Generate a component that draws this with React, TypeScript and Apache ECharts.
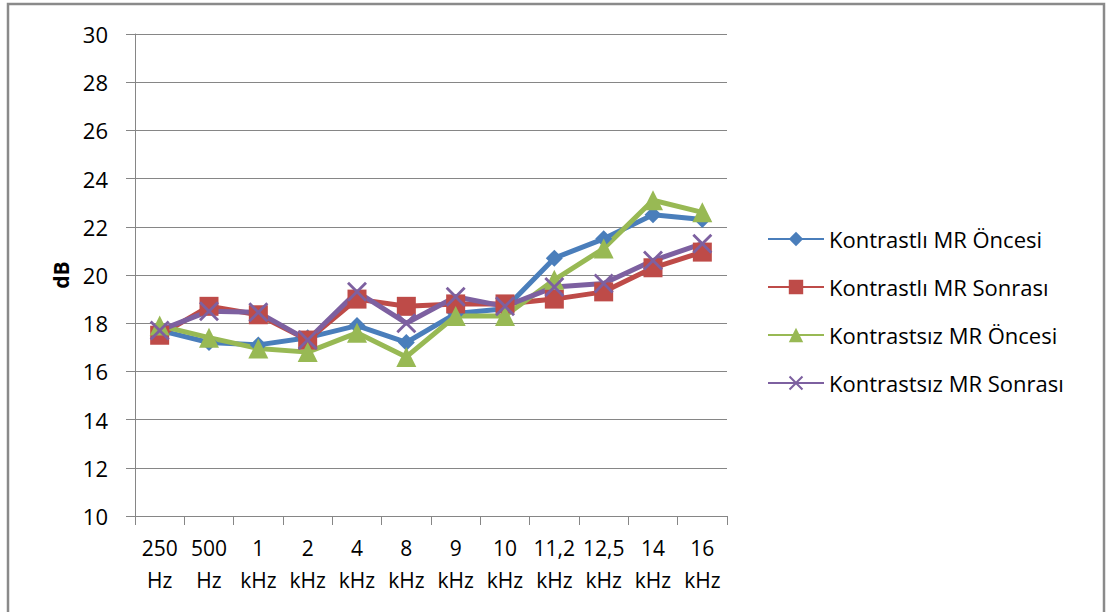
import React, { useEffect, useRef } from "react";
import * as echarts from "echarts";

const categories = ["250\nHz", "500\nHz", "1\nkHz", "2\nkHz", "4\nkHz", "8\nkHz", "9\nkHz", "10\nkHz", "11,2\nkHz", "12,5\nkHz", "14\nkHz", "16\nkHz"];
const kontrastliOncesi = [17.7, 17.2, 17.1, 17.4, 17.9, 17.2, 18.4, 18.6, 20.7, 21.5, 22.5, 22.3];
const kontrastliSonrasi = [17.5, 18.7, 18.35, 17.3, 19.0, 18.7, 18.8, 18.8, 19.0, 19.3, 20.3, 20.95];
const kontrastsizOncesi = [17.9, 17.4, 16.95, 16.8, 17.6, 16.6, 18.3, 18.3, 19.8, 21.1, 23.1, 22.6];
const kontrastsizSonrasi = [17.7, 18.5, 18.45, 17.3, 19.3, 18.0, 19.1, 18.7, 19.5, 19.65, 20.6, 21.3];
const seriesNames = ["Kontrastlı MR Öncesi", "Kontrastlı MR Sonrası", "Kontrastsız MR Öncesi", "Kontrastsız MR Sonrası"];
const yTicks = { min: 10, max: 30, interval: 2 };

const FONT = "'Open Sans', Lato, sans-serif";
const crossPath = "path://M0,1 L1,0 L5,4 L9,0 L10,1 L6,5 L10,9 L9,10 L5,6 L1,10 L0,9 L4,5 Z";

export default function App() {
  const ref = useRef<HTMLDivElement>(null);
  useEffect(() => {
    if (!ref.current) return;
    const chart = echarts.init(ref.current, undefined, { renderer: "svg" });
    const colors = ["#4A7EBB", "#BE4B48", "#98B954", "#7D60A0"];
    const mk = (name: string, data: number[], color: string, symbol: string, size: number) => ({
      name,
      type: "line",
      data,
      symbol,
      symbolSize: size,
      color,
      lineStyle: { width: 5, color },
      itemStyle: { color },
      emphasis: { disabled: true },
    });
    chart.setOption({
      animation: false,
      textStyle: { fontFamily: FONT },
      grid: { left: 135, right: 382, top: 34, bottom: 96, containLabel: false },
      graphic: [
        {
          type: "rect",
          shape: { x: 8, y: 4, width: 1096, height: 640 },
          style: { fill: "none", stroke: "#8a8a8a", lineWidth: 2.5 },
          silent: true,
        },
      ],
      legend: {
        orient: "vertical",
        left: 762,
        top: 223,
        itemWidth: 56,
        itemHeight: 18,
        itemGap: 26,
        textStyle: { fontSize: 22, color: "#000", fontFamily: FONT },
        data: seriesNames,
      },
      xAxis: {
        type: "category",
        data: categories,
        boundaryGap: true,
        axisLine: { lineStyle: { color: "#868686", width: 1 } },
        axisTick: { show: true, length: 9, alignWithLabel: false, lineStyle: { color: "#868686" } },
        axisLabel: { fontSize: 21, color: "#000", lineHeight: 32, margin: 16, interval: 0, fontFamily: FONT },
        splitLine: { show: false },
      },
      yAxis: {
        type: "value",
        min: yTicks.min,
        max: yTicks.max,
        interval: yTicks.interval,
        name: "dB",
        nameLocation: "middle",
        nameGap: 63,
        nameTextStyle: { fontSize: 21, fontWeight: "bold", color: "#000", fontFamily: FONT },
        axisLine: { show: true, lineStyle: { color: "#868686", width: 1 } },
        axisTick: { show: true, length: 9, lineStyle: { color: "#868686" } },
        axisLabel: { fontSize: 22, color: "#000", margin: 27, fontFamily: FONT },
        splitLine: { show: true, lineStyle: { color: "#868686", width: 1 } },
      },
      series: [
        mk(seriesNames[0], kontrastliOncesi, colors[0], "diamond", 17),
        mk(seriesNames[1], kontrastliSonrasi, colors[1], "rect", 19),
        mk(seriesNames[2], kontrastsizOncesi, colors[2], "triangle", 20),
        mk(seriesNames[3], kontrastsizSonrasi, colors[3], crossPath, 20),
      ],
    });
    return () => chart.dispose();
  }, []);
  return (
    <div
      ref={ref}
      style={{ position: "absolute", left: 0, top: 0, width: 1109, height: 612, background: "#fff" }}
    />
  );
}
